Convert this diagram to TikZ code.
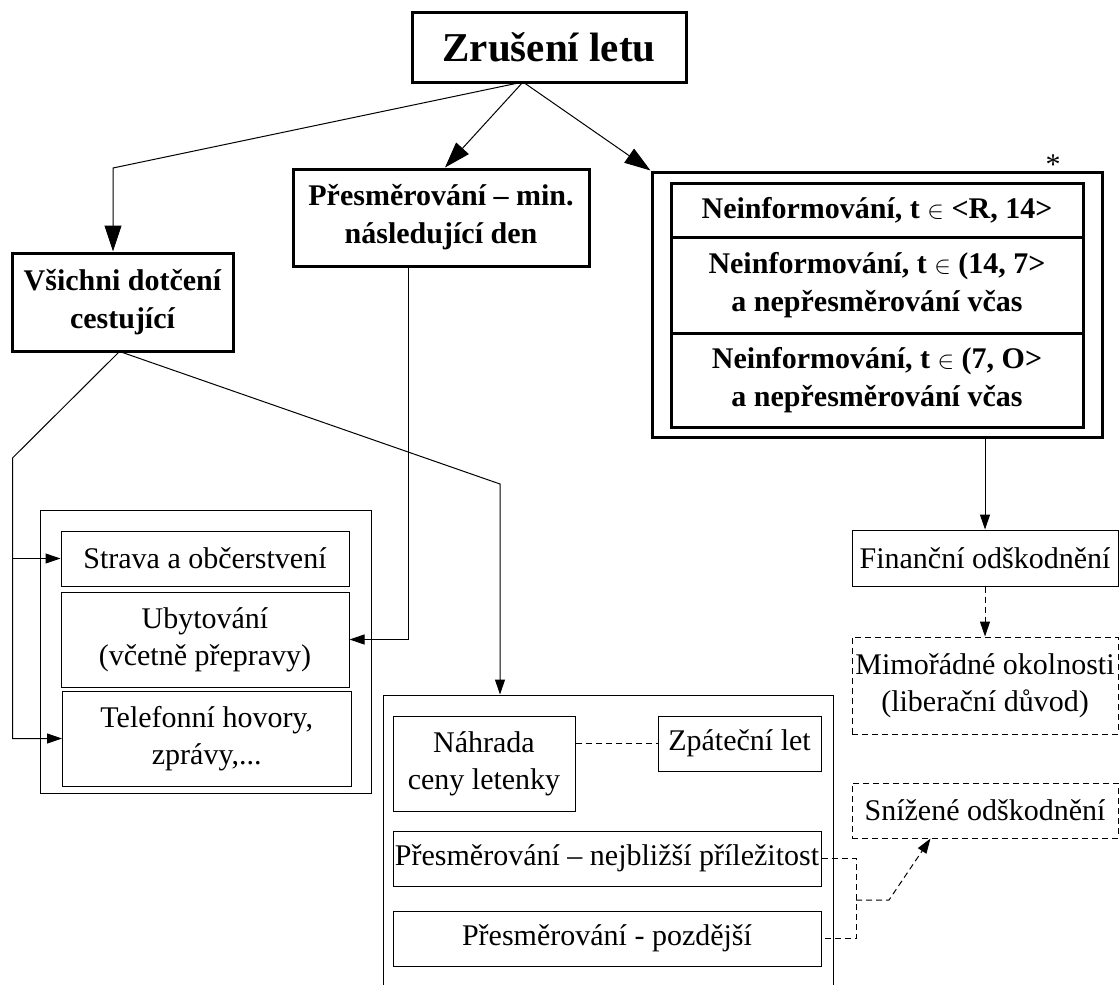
\documentclass[tikz,border=0pt]{standalone}
\usepackage{fontspec}
\setmainfont{Liberation Serif}
\usetikzlibrary{arrows.meta,calc}
\tikzset{
  base/.style={draw, inner sep=0pt, align=center, line width=1pt,
    font=\fontsize{30}{37}\selectfont},
  boldbox/.style={base, line width=3pt, font=\fontsize{30}{38}\selectfont\bfseries},
  plainbox/.style={base},
  dbox/.style={base, dash pattern=on 6pt off 4pt},
  conn/.style={line width=1pt},
  bigarr/.style={conn, -{Triangle[length=26pt,width=17pt]}},
  smallarr/.style={conn, -{Triangle[length=15pt,width=10pt]}},
  dconn/.style={conn, dash pattern=on 6pt off 4pt},
}
\begin{document}
\begin{tikzpicture}[x=1pt,y=-1pt]
\clip (0,0) rectangle (1119,985);
\fill[white] (0,0) rectangle (1119,985);

% top level
\node[boldbox, minimum width=274pt, minimum height=70pt,
      font=\fontsize{41}{48}\selectfont\bfseries] (title) at (549,47) {Zrušení letu};
\node[boldbox, minimum width=221pt, minimum height=98pt] (vsichni) at (122.5,302)
  {Všichni dotčení\\cestující};
\node[boldbox, minimum width=296pt, minimum height=97pt] (presm) at (441,217.5)
  {Přesměrování – min.\\následující den};

% big box
\node[boldbox, minimum width=450pt, minimum height=265pt] (big) at (877,304.5) {};
\node[boldbox, minimum width=412pt, minimum height=54pt] (row1) at (877,210)
  {Neinformování, t $\in$ <R, 14>};
\node[boldbox, minimum width=412pt, minimum height=96pt] (row2) at (877,285)
  {Neinformování, t $\in$ (14, 7>\\a nepřesměrování včas};
\node[boldbox, minimum width=412pt, minimum height=94pt] (row3) at (877,380)
  {Neinformování, t $\in$ (7, O>\\a nepřesměrování včas};
\node[inner sep=0pt, font=\fontsize{30}{36}\selectfont] (star) at (1053,165) {*};

% right column
\node[plainbox, minimum width=266pt, minimum height=56pt] (financni) at (985,558)
  {Finanční odškodnění};
\node[dbox, minimum width=266pt, minimum height=97pt] (mimoradne) at (985,685.5)
  {Mimořádné okolnosti\\(liberační důvod)};
\node[dbox, minimum width=266pt, minimum height=55pt] (snizene) at (985,810.5)
  {Snížené odškodnění};

% left group
\node[draw, line width=1pt, minimum width=331pt, minimum height=283pt] (lgroup) at (205.5,651.5) {};
\node[plainbox, minimum width=288pt, minimum height=55pt] (strava) at (205,558.5)
  {Strava a občerstvení};
\node[plainbox, minimum width=288pt, minimum height=95pt] (ubyt) at (205,639.5)
  {Ubytování\\(včetně přepravy)};
\node[plainbox, minimum width=288.5pt, minimum height=95pt] (telef) at (206.75,738.5)
  {Telefonní hovory,\\zprávy,...};

% right group
\node[draw, line width=1pt, minimum width=450pt, minimum height=305pt] (rgroup) at (608,847.5) {};
\node[plainbox, minimum width=182pt, minimum height=95pt] (nahrada) at (484,763.5)
  {Náhrada\\ceny letenky};
\node[plainbox, minimum width=163pt, minimum height=55pt] (zpatecni) at (739.5,743.5)
  {Zpáteční let};
\node[plainbox, minimum width=428pt, minimum height=55pt] (nejblizsi) at (607,858.5)
  {Přesměrování – nejbližší příležitost};
\node[plainbox, minimum width=428pt, minimum height=55pt] (pozdejsi) at (607,938.5)
  {Přesměrování - pozdější};

% connectors from title
\coordinate (apex) at (523,82);
\coordinate (c1) at (113,168);
\draw[bigarr] (apex) -- (c1) -- (c1 |- vsichni.north);
\draw[bigarr] (apex) -- ($(presm.north)+(4,0)$);
\draw[bigarr] (apex) -- (big.north west);

% from presm to ubytovani
\coordinate (p1) at ($(presm.south)+(-33,0)$);
\draw[smallarr] (p1) |- (ubyt.east);

% from vsichni
\coordinate (c2) at (12.5,458);
\draw[smallarr] ($(vsichni.south)+(-4,0)$) -- (c2) |- (telef.west);
\draw[smallarr] (c2 |- strava.west) -- (strava.west);
\coordinate (c3) at (500,484);
\draw[smallarr] (vsichni.south) -- (c3) -- (c3 |- rgroup.north);

% right column
\draw[smallarr] (financni.north |- big.south) -- (financni.north);
\draw[dconn, smallarr] (financni.south) -- (mimoradne.north);

% dashed links in right group
\draw[dconn] (nahrada.east |- zpatecni.west) -- (zpatecni.west);
\coordinate (d1) at (856,900);
\coordinate (d2) at (889,900);
\draw[dconn] (nejblizsi.east) -| (d1) |- (pozdejsi.east);
\draw[dconn, smallarr] (d1) -- (d2) -- ($(snizene.south west)+(79,0)$);
\end{tikzpicture}
\end{document}
